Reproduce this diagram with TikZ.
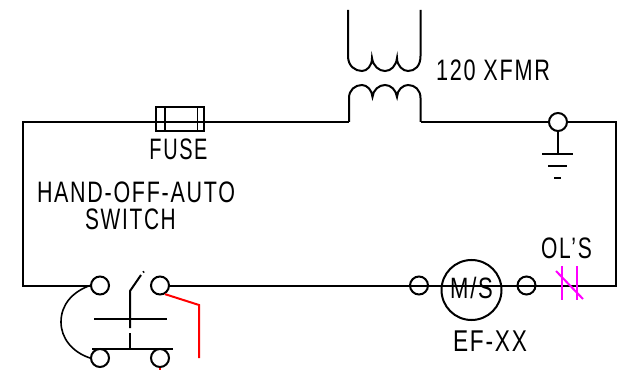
\documentclass[tikz,border=0pt]{standalone}
\usepackage{fontspec}
\usepackage{graphicx}
\setmainfont[LetterSpace=8]{Liberation Sans}
\newcommand{\fitlabel}[3]{\resizebox{#1pt}{#2pt}{#3}}
\definecolor{cadred}{RGB}{255,0,0}
\definecolor{cadmag}{RGB}{255,0,255}
\tikzset{
  x=0.75pt,y=-0.75pt,
  wire/.style={line width=1.5pt,black,line join=miter},
  term/.style={circle,draw=black,line width=1.5pt,minimum size=13.5pt,inner sep=0pt},
  lbl/.style={inner sep=0pt,outer sep=0pt,text=black},
  redw/.style={line width=1.5pt,cadred},
  magw/.style={line width=1.5pt,cadmag}
}
\begin{document}
\begin{tikzpicture}
\useasboundingbox (0,0) rectangle (638,370);
% terminals
\node[term] (tl) at (100,285.5) {};
\node[term] (tr) at (160,285.5) {};
\node[term] (bl) at (100,358) {};
\node[term] (br) at (160,358) {};
\node[term] (m1) at (419,285.5) {};
\node[term] (m2) at (526.5,285.5) {};
\node[term,minimum size=45pt] (ms) at (471.5,290) {};
\node[term] (gnd) at (558,122) {};
\node[draw=black,line width=1.2pt,minimum width=36pt,minimum height=18pt,inner sep=0pt] (fuse) at (180,119) {};
% coordinates
\coordinate (cbl) at (23,285.5);
\coordinate (ctl) at (23,122);
\coordinate (xl) at (349,122);
\coordinate (xr) at (420.5,122);
\coordinate (ctr) at (616,122);
\coordinate (cbr) at (616,285.5);
% main loop
\draw[wire] (tl.west) -- (cbl) -- (ctl) -- (xl);
\draw[wire] (xr) -- (gnd.west);
\draw[wire] (gnd.east) -- (ctr) -- (cbr) -- (tr.east);
% fuse inner bars
\draw[line width=1.2pt] (165,107) -- (165,131) (197.5,107) -- (197.5,131);
% transformer secondary
\draw[wire] (348,10) -- (348,56)
  .. controls (348,66) and (355,71) .. (362,71)
  .. controls (367,71) and (372,66) .. (372,58)
  .. controls (373,66) and (379,71) .. (385,71)
  .. controls (391,71) and (396,66) .. (397,58)
  .. controls (397,66) and (403,71) .. (408,71)
  .. controls (415,71) and (420.5,66) .. (420.5,56) -- (420.5,10);
% transformer primary
\draw[wire] (xl) -- (349,98)
  .. controls (349,90) and (355,85) .. (362,85)
  .. controls (367,85) and (372,90) .. (372.5,97)
  .. controls (373,90) and (379,85) .. (385,85)
  .. controls (391,85) and (396,90) .. (397,97)
  .. controls (397,90) and (403,85) .. (408,85)
  .. controls (415,85) and (420.5,90) .. (420.5,98) -- (xr);
% ground
\coordinate (g1) at (558,154);
\draw[wire] (gnd.south) -- (g1);
\draw[wire] (542,154) -- (573,154);
\draw[wire] (548,166) -- (567,166);
\draw[wire] (554,178) -- (561,178);
% switch
\draw[wire,line cap=butt] (130,349) -- (130,333);
\draw[wire] (130,328) -- (130,291) -- (141,275);
\draw[wire] (143,272.5) -- (144,271.5);
\draw[wire] (94,319) -- (167,319);
\draw[wire] (92,349) -- (173,349);
\draw[line width=1.2pt] (tl.west) .. controls (72,292) and (61,305) .. (61,322)
  .. controls (61,338) and (72,352) .. (bl.west);
% red
\draw[redw] (tr.-60) -- (199,305) -- (199,358);
\draw[redw] (160,368) -- (160,370);
% overload
\draw[magw] (562,266) -- (562,300);
\draw[magw] (577,266) -- (577,300);
\draw[magw] (556,271) -- (583,299);
% labels
\node[lbl] (t1) at (178.5,149.5) {\fitlabel{43.5}{15.5}{FUSE}};
\node[lbl] (t2) at (136,192) {\fitlabel{148.5}{15.5}{HAND-OFF-AUTO}};
\node[lbl] (t3) at (130.5,219) {\fitlabel{68}{15.5}{SWITCH}};
\node[lbl] (t4) at (493,70) {\fitlabel{85.5}{15.5}{120 XFMR}};
\node[lbl] (t5) at (566.5,248.5) {\fitlabel{38}{15.5}{OL'S}};
\node[lbl] (t6) at (490,341) {\fitlabel{55.5}{15.5}{EF-XX}};
\node[lbl] (t7) at (471.5,287.5) {\fitlabel{32}{16}{M/S}};
\end{tikzpicture}
\end{document}
